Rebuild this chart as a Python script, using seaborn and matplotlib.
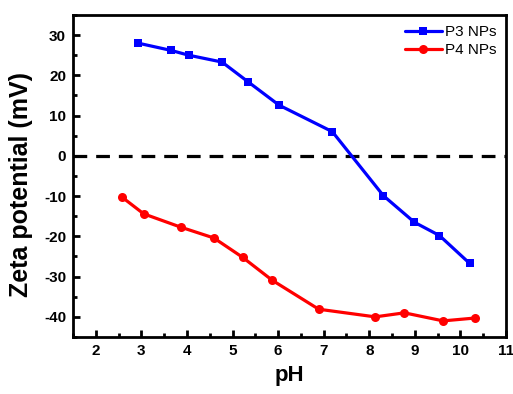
import matplotlib
matplotlib.use("Agg")
import matplotlib.pyplot as plt
import seaborn as sns
from matplotlib.ticker import MultipleLocator

# data
p3_ph = [2.93, 3.65, 4.04, 4.77, 5.34, 6.02, 7.19, 8.31, 8.99, 9.54, 10.2]
p3_zeta = [28.0, 26.2, 25.0, 23.3, 18.4, 12.6, 6.0, -9.9, -16.5, -19.8, -26.7]
p4_ph = [2.58, 3.05, 3.86, 4.59, 5.22, 5.87, 6.89, 8.13, 8.77, 9.62, 10.31]
p4_zeta = [-10.3, -14.4, -17.7, -20.4, -25.2, -30.9, -38.1, -40.0, -39.0, -41.0, -40.3]

sns.set_style("ticks")
plt.rcParams['font.family'] = ['Liberation Sans', 'DejaVu Sans']
plt.rcParams['axes.unicode_minus'] = False
plt.rcParams['text.color'] = 'black'
plt.rcParams['axes.labelcolor'] = 'black'
plt.rcParams['xtick.color'] = 'black'
plt.rcParams['ytick.color'] = 'black'

fig = plt.figure(figsize=(5.13, 3.94), dpi=100)
ax = fig.add_axes([0.1423, 0.1447, 0.8441, 0.8173])

sns.lineplot(x=p3_ph, y=p3_zeta, ax=ax, color='#0000FF', marker='s', markersize=6,
             markeredgewidth=0, linewidth=2.3, sort=False, label='P3 NPs')
sns.lineplot(x=p4_ph, y=p4_zeta, ax=ax, color='#FF0000', marker='o', markersize=6.5,
             markeredgewidth=0, linewidth=2.3, sort=False, label='P4 NPs')

ax.axhline(0, color='black', linestyle=(0, (4.3, 2.8)), linewidth=2.3, zorder=1)

ax.set_xlim(1.5, 11)
ax.set_ylim(-45, 35)
ax.xaxis.set_major_locator(MultipleLocator(1))
ax.xaxis.set_minor_locator(MultipleLocator(0.5))
ax.yaxis.set_major_locator(MultipleLocator(10))
ax.yaxis.set_minor_locator(MultipleLocator(5))
ax.tick_params(which='both', direction='in', width=2, top=False, right=False)
ax.tick_params(which='major', length=5, labelsize=11, pad=5)
ax.tick_params(which='minor', length=3)
for lbl in ax.get_xticklabels() + ax.get_yticklabels():
    lbl.set_fontweight('bold')

for side in ['left', 'bottom', 'top', 'right']:
    ax.spines[side].set_linewidth(2)
    ax.spines[side].set_color('black')

ax.set_xlabel('pH', fontsize=16, fontweight='bold', labelpad=5)
ax.set_ylabel('Zeta potential (mV)', fontsize=18, fontweight='bold')
ax.yaxis.set_label_coords(-0.092, 0.475)

ax.legend(loc='upper right', frameon=False, fontsize=11, handlelength=2.4,
          handletextpad=0.2, labelspacing=0.3, borderaxespad=0.25)

fig.savefig('out.png', dpi=100)
